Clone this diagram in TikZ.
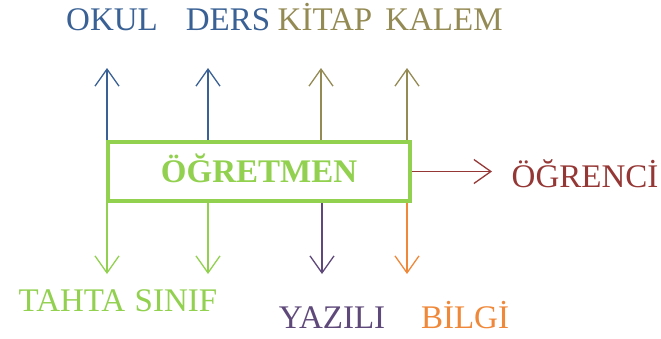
\documentclass[tikz,border=0pt]{standalone}
\usepackage{fontspec}
\setmainfont{Liberation Serif}
\usepackage{tikz}
\usetikzlibrary{arrows.meta}
\usepackage{xcolor}
\definecolor{mavi}{HTML}{3A6195}
\definecolor{zeytin}{HTML}{948A54}
\definecolor{yesil}{HTML}{92D050}
\definecolor{bordo}{HTML}{953735}
\definecolor{mor}{HTML}{5F497A}
\definecolor{turuncu}{HTML}{F0883A}
\tikzset{
	ok/.style={line width=1.3pt, -{Straight Barb[length=17pt,width=24pt,line width=1.3pt]}},
	etiket/.style={font=\fontsize{33}{39}\selectfont, anchor=base, inner sep=0pt}
}

\begin{document}
\begin{tikzpicture}[x=1pt, y=-1pt]
			\useasboundingbox (0,0) rectangle (661,338);
			% merkez kutu
			\node[draw=yesil, line width=4.5pt, minimum width=302pt, minimum height=59pt, inner sep=0pt,
				text=yesil, font=\fontsize{33}{39}\selectfont\bfseries, text height=22pt, text depth=0pt]
				(ogretmen) at (259,171.5) {ÖĞRETMEN};
			% ok uclari
			\coordinate (okulUc) at (107,68);
			\coordinate (dersUc) at (208,68);
			\coordinate (kitapUc) at (321,68);
			\coordinate (kalemUc) at (407,68);
			\coordinate (tahtaUc) at (107,274);
			\coordinate (sinifUc) at (208,274);
			\coordinate (yaziliUc) at (322,274);
			\coordinate (bilgiUc) at (407,274);
			\coordinate (ogrenciUc) at (492,171.5);
			% yukari oklar
			\draw[ok, mavi] (okulUc |- ogretmen.north) -- (okulUc);
			\draw[ok, mavi] (dersUc |- ogretmen.north) -- (dersUc);
			\draw[ok, zeytin] (kitapUc |- ogretmen.north) -- (kitapUc);
			\draw[ok, zeytin] (kalemUc |- ogretmen.north) -- (kalemUc);
			% asagi oklar
			\draw[ok, yesil] (tahtaUc |- ogretmen.south) -- (tahtaUc);
			\draw[ok, yesil] (sinifUc |- ogretmen.south) -- (sinifUc);
			\draw[ok, mor] (yaziliUc |- ogretmen.south) -- (yaziliUc);
			\draw[ok, turuncu] (bilgiUc |- ogretmen.south) -- (bilgiUc);
			\draw[ok, bordo] (ogretmen.east) -- (ogrenciUc);
			% etiketler
			\node[etiket, text=mavi] (okul) at (112,30) {OKUL};
			\node[etiket, text=mavi] (ders) at (228,30) {DERS};
			\node[etiket, text=zeytin] (kitap) at (325,30) {KİTAP};
			\node[etiket, text=zeytin] (kalem) at (444,30) {KALEM};
			\node[etiket, text=yesil] (tahta) at (72,311) {TAHTA};
			\node[etiket, text=yesil] (sinif) at (176,311) {SINIF};
			\node[etiket, text=mor] (yazili) at (332,328) {YAZILI};
			\node[etiket, text=turuncu] (bilgi) at (465,328) {BİLGİ};
			\node[etiket, text=bordo] (ogrenci) at (585,187) {ÖĞRENCİ};
		\end{tikzpicture}
\end{document}
